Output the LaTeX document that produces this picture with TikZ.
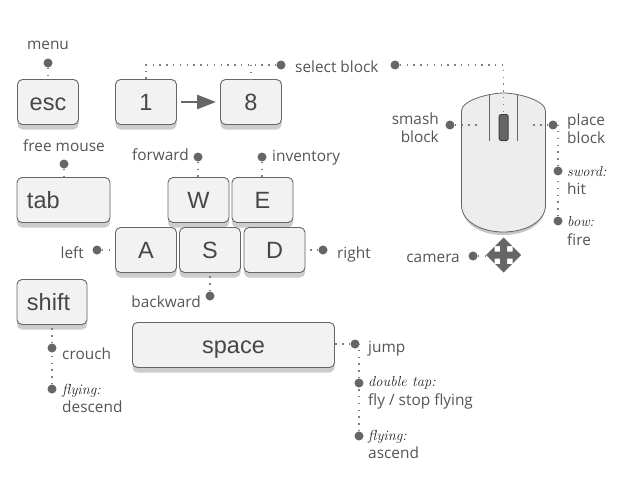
\documentclass[tikz,border=0pt]{standalone}
\usepackage{fontspec}
\setmainfont{Open Sans}
\newfontfamily\keyfont{Liberation Sans}
\newfontfamily\scrfont{Latin Modern Roman}
\usetikzlibrary{shadows,arrows.meta}
\definecolor{ink}{HTML}{555555}
\definecolor{dk}{HTML}{666666}
\tikzset{
 keyb/.style={draw=dk,line width=.9pt,fill=black!5,rounded corners=5pt,
   drop shadow={shadow xshift=0pt,shadow yshift=-5pt,fill=black!20,opacity=1},
   minimum height=45pt,inner sep=0pt,font=\keyfont\fontsize{23.5}{24}\selectfont,text=black!72,
   text height=16pt,text depth=0pt,align=center},
 dotn/.style={circle,fill=dk,minimum size=9pt,inner sep=0pt},
 conn/.style={draw=black!50,line width=1.3pt,dash pattern=on 1.4pt off 5.4pt},
 lab/.style={inner sep=0pt,text=ink,font=\fontsize{15.4}{18}\selectfont,text height=10pt,text depth=0pt},
 scr/.style={inner sep=0pt,text=black!85,font=\scrfont\itshape\fontsize{14.5}{17}\selectfont,text height=10pt,text depth=0pt},
}
\begin{document}
\begin{tikzpicture}[x=1pt,y=-1pt]
\useasboundingbox[fill=white] (0,0) rectangle (634,503);
% keys
\node[keyb,minimum width=61pt] (esc) at (48,102) {esc};
\node[keyb,minimum width=61pt] (k1) at (146,102) {1};
\node[keyb,minimum width=61pt] (k8) at (251,102) {8};
\node[keyb,minimum width=93pt,text width=73pt,align=left] (tab) at (63.5,200) {tab};
\node[keyb,minimum width=61pt] (w) at (198.5,200) {W};
\node[keyb,minimum width=61pt] (e) at (262.5,200) {E};
\node[keyb,minimum width=61pt] (a) at (146,250) {A};
\node[keyb,minimum width=61pt] (s) at (210,250) {S};
\node[keyb,minimum width=61pt] (d) at (274.5,250) {D};
\node[keyb,minimum width=70pt,text width=50pt,align=left] (shift) at (52,302) {shift};
\node[keyb,minimum width=202pt] (space) at (233.5,345) {space};
% arrow 1 to 8
\draw[dk,line width=2.6pt,-{Triangle[length=19pt,width=14pt]}] ([xshift=4pt]k1.east) -- ([xshift=-4pt]k8.west);
% mouse
\fill[black!22] (461.5,113) .. controls (461.5,100) and (490,93) .. (503.5,93) .. controls (517,93) and (545.5,100) .. (545.5,113) -- (545.5,205) .. controls (545.5,225) and (525,235) .. (503.5,235) .. controls (482,235) and (461.5,225) .. (461.5,205) -- cycle;
\draw[dk,line width=.8pt,fill=black!7] (461.5,111) .. controls (461.5,100) and (490,93) .. (503.5,93) .. controls (517,93) and (545.5,100) .. (545.5,111) -- (545.5,205) .. controls (545.5,222) and (525,232) .. (503.5,232) .. controls (482,232) and (461.5,222) .. (461.5,205) -- cycle;
\draw[dk,line width=.6pt] (489.7,94.5) -- (489.7,140.5) (517.3,94.5) -- (517.3,140.5);
\node[draw=black!75,fill=black!60,rounded corners=2pt,line width=1pt,minimum width=9pt,minimum height=26pt,inner sep=0pt] (wheel) at (503.7,127.5) {};
\coordinate (lb) at (477,125);
\coordinate (rb) at (531,125);
% camera cross
\node[inner sep=0pt,minimum size=35pt] (cam) at (503.5,255) {};
\fill[dk] (503.5,237.5) -- (512,246) -- (507,246) -- (507,251.5) -- (512.5,251.5) -- (512.5,246.5) -- (521,255) -- (512.5,263.5) -- (512.5,258.5) -- (507,258.5) -- (507,264) -- (512,264) -- (503.5,272.5) -- (495,264) -- (500,264) -- (500,258.5) -- (494.5,258.5) -- (494.5,263.5) -- (486,255) -- (494.5,246.5) -- (494.5,251.5) -- (500,251.5) -- (500,246) -- (495,246) -- cycle;
% dots
\node[dotn] (dmenu) at (48,63) {};
\node[dotn] (dsel1) at (281,65) {};
\node[dotn] (dsel2) at (395,65) {};
\node[dotn] (dfree) at (64,164) {};
\node[dotn] (dfwd) at (198,157) {};
\node[dotn] (dinv) at (262,157) {};
\node[dotn] (dleft) at (97,250) {};
\node[dotn] (dright) at (323,250) {};
\node[dotn] (dback) at (210,296) {};
\node[dotn] (dcrouch) at (52,348) {};
\node[dotn] (ddesc) at (52,389) {};
\node[dotn] (djump) at (355,344) {};
\node[dotn] (ddbl) at (359,383) {};
\node[dotn] (dasc) at (359,436) {};
\node[dotn] (dsmash) at (450,125) {};
\node[dotn] (dplace) at (553,125) {};
\node[dotn] (dsword) at (558,171) {};
\node[dotn] (dbow) at (558,221) {};
\node[dotn] (dcam) at (473,256) {};
% connectors
\draw[conn] (dmenu) -- (esc);
\draw[conn] (dsel1) -| (k1.north);
\draw[conn] (k8.north |- dsel1) -- (k8.north);
\draw[conn] (dsel2) -| (wheel.north);
\draw[conn] (dfree) -- (tab.north -| dfree);
\draw[conn] (dfwd) -- (w.north -| dfwd);
\draw[conn] (dinv) -- (e.north -| dinv);
\draw[conn] (dleft) -- (a.west |- dleft);
\draw[conn] (dright) -- (d.east |- dright);
\draw[conn] (dback) -- (s.south -| dback);
\draw[conn] (dcrouch) -- (shift.south -| dcrouch);
\draw[conn] (ddesc) -- (dcrouch);
\draw[conn] (djump) -- (space.east |- djump);
\draw[conn] (ddbl) -- (ddbl |- djump);
\draw[conn] (dasc) -- (ddbl);
\draw[conn] (dsmash) -- (lb);
\draw[conn] (dplace) -- (rb);
\draw[conn] (dsword) -- (dsword |- dplace);
\draw[conn] (dbow) -- (dsword);
\draw[conn] (dcam) -- (cam.west |- dcam);
% labels
\node[lab] (tmenu) at (48,45) {menu};
\node[lab,anchor=west] (tsel) at (295,67) {select block};
\node[lab] (tfree) at (64,146) {free mouse};
\node[lab,anchor=east] (tfwd) at (189,155) {forward};
\node[lab,anchor=west] (tinv) at (272,156) {inventory};
\node[lab,anchor=east] (tleft) at (84,253) {left};
\node[lab,anchor=west] (tright) at (337,253) {right};
\node[lab,anchor=east] (tback) at (201,302) {backward};
\node[lab,anchor=west] (tcrouch) at (62,354) {crouch};
\node[scr,anchor=west] (tfly1) at (62,389) {flying:};
\node[lab,anchor=west] (tdesc) at (62,407) {descend};
\node[lab,anchor=west] (tjump) at (368,347) {jump};
\node[scr,anchor=west] (tdbl) at (368,381) {double tap:};
\node[lab,anchor=west] (tfly) at (368,400) {fly / stop flying};
\node[scr,anchor=west] (tfly2) at (368,435) {flying:};
\node[lab,anchor=west] (tasc) at (368,453) {ascend};
\node[lab,anchor=east] (tsm1) at (439,119) {smash};
\node[lab,anchor=east] (tsm2) at (439,137) {block};
\node[lab,anchor=west] (tpl1) at (567,120) {place};
\node[lab,anchor=west] (tpl2) at (567,138) {block};
\node[scr,anchor=west] (tsw) at (567,171) {sword:};
\node[lab,anchor=west] (thit) at (567,189) {hit};
\node[scr,anchor=west] (tbow) at (567,221) {bow:};
\node[lab,anchor=west] (tfire) at (567,240) {fire};
\node[lab,anchor=east] (tcam) at (460,257) {camera};
\end{tikzpicture}
\end{document}
